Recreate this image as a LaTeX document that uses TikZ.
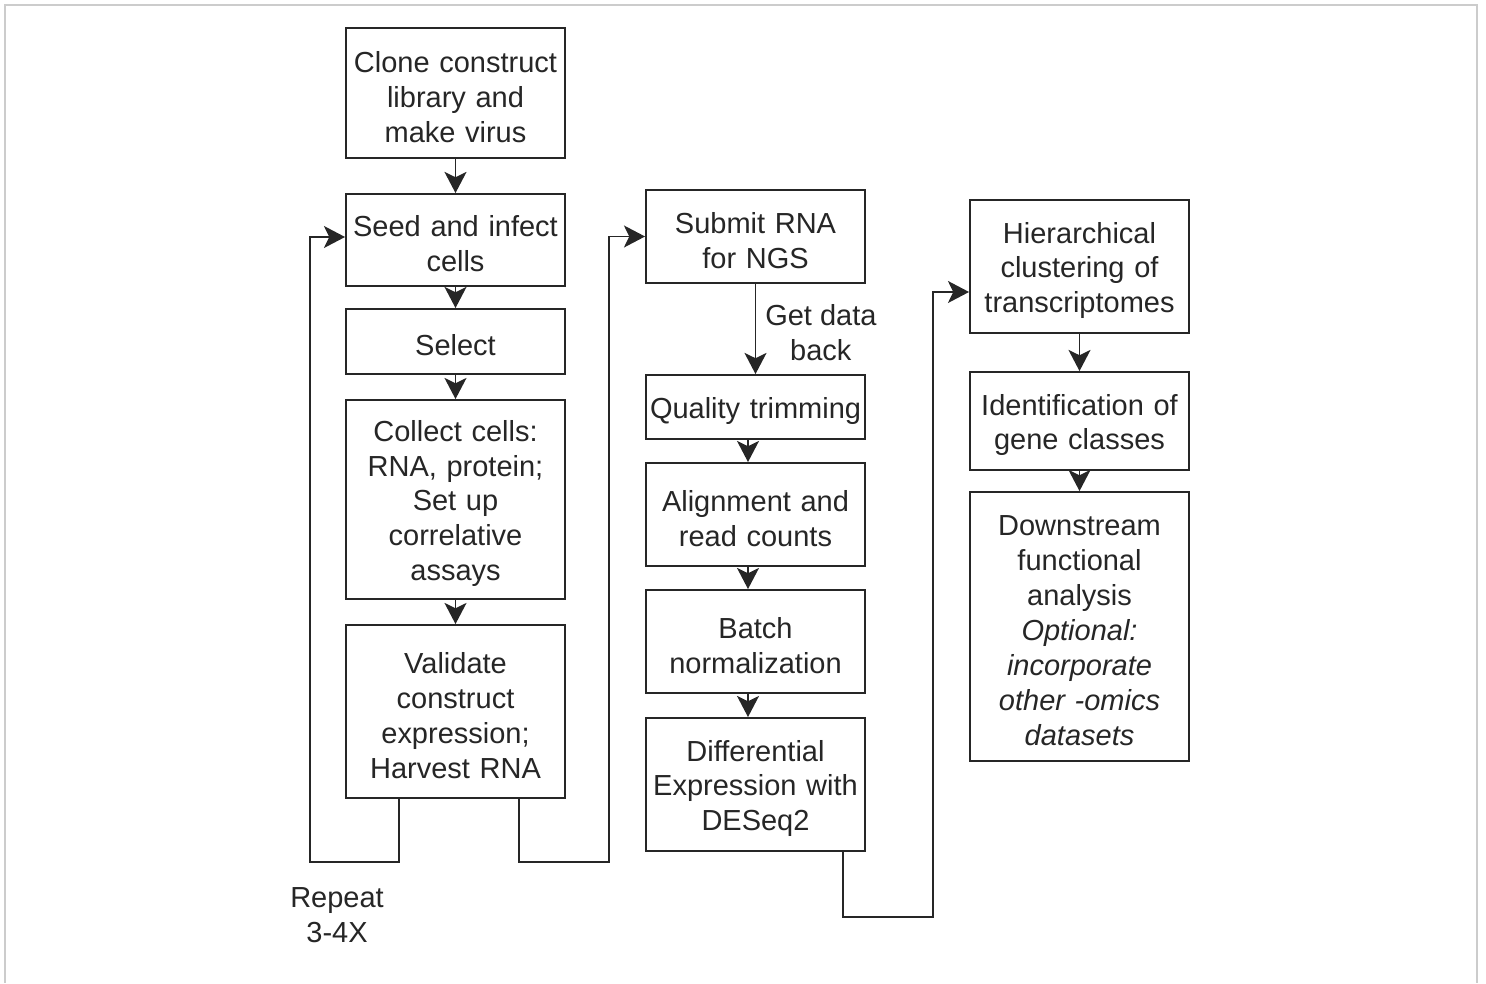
\documentclass[tikz,border=0pt]{standalone}
\usepackage{fontspec}
\setmainfont{Liberation Sans}
\usetikzlibrary{arrows.meta}
\definecolor{ink}{HTML}{262626}
\definecolor{frame}{HTML}{CCCCCC}
\tikzset{
    box/.style={rectangle, draw=ink, line width=1.1pt, fill=white, text=ink,
        minimum width=4.38cm, text width=4.3cm, inner sep=0pt, align=center,
        font=\fontsize{16.5}{19.9}\selectfont,
        execute at begin node={\rule{0pt}{16.5pt}}},
    arr/.style={-{Stealth[length=12pt, width=12.5pt, inset=3pt]}, line width=1.1pt, draw=ink},
    loop/.style={-{Stealth[length=12pt, width=12.5pt, inset=3pt]}, line width=1.1pt, draw=ink},
    lbl/.style={align=center, text=ink, inner sep=0pt, font=\fontsize{16.5}{19.9}\selectfont}
}

\begin{document}
\begin{tikzpicture}[x=0.02cm, y=-0.02cm]
%% canvas: 1486 x 983 px, y runs downwards
\useasboundingbox (0,0) rectangle (1486,983);
\draw[frame, line width=1.2pt] (5,983) -- (5,5) -- (1477,5) -- (1477,983);

%% ── COLUMN 1: WET LAB ───────────────────────────────────────────
\node[box, minimum height=2.6cm]  (clone)    at (455.5, 93)   {Clone construct\\library and\\make virus};
\node[box, minimum height=1.84cm] (seed)     at (455.5, 240)  {Seed and infect\\cells};
\node[box, minimum height=1.3cm]  (select)   at (455.5, 341.5){Select};
\node[box, minimum height=3.98cm] (collect)  at (455.5, 499.5){Collect cells:\\RNA, protein;\\Set up\\correlative\\assays};
\node[box, minimum height=3.46cm] (validate) at (455.5, 711.5){Validate\\construct\\expression;\\Harvest RNA};

%% ── COLUMN 2: SEQUENCING ────────────────────────────────────────
\node[box, minimum height=1.86cm] (submit) at (755.5, 236.5){Submit RNA\\for NGS};
\node[box, minimum height=1.28cm] (trim)   at (755.5, 407)  {Quality trimming};
\node[box, minimum height=2.06cm] (align)  at (755.5, 514.5){Alignment and\\read counts};
\node[box, minimum height=2.06cm] (batch)  at (755.5, 641.5){Batch\\normalization};
\node[box, minimum height=2.66cm] (deseq)  at (755.5, 784.5){Differential\\Expression with\\DESeq2};

%% ── COLUMN 3: ANALYSIS ──────────────────────────────────────────
\node[box, minimum height=2.66cm] (cluster)    at (1079.5, 266.5){Hierarchical\\clustering of\\transcriptomes};
\node[box, minimum height=1.96cm] (classes)    at (1079.5, 421)  {Identification of\\gene classes};
\node[box, minimum height=5.38cm] (downstream) at (1079.5, 626.5){Downstream\\functional\\analysis\\\textit{Optional:}\\\textit{incorporate}\\\textit{other -omics}\\\textit{datasets}};

%% ── STRAIGHT STEPS ──────────────────────────────────────────────
\draw[arr] (clone)   -- (seed);
\draw[arr] (seed)    -- (select);
\draw[arr] (select)  -- (collect);
\draw[arr] (collect) -- (validate);

\draw[arr] (submit) -- node[lbl, right=5pt, yshift=-2pt]{Get data\\back} (trim);
\draw[arr] ([xshift=-0.15cm]trim.south)  -- ([xshift=-0.15cm]align.north);
\draw[arr] ([xshift=-0.15cm]align.south) -- ([xshift=-0.15cm]batch.north);
\draw[arr] ([xshift=-0.15cm]batch.south) -- ([xshift=-0.15cm]deseq.north);

\draw[arr] (cluster) -- (classes);
\draw[arr] (classes) -- (downstream);

%% ── LOOPS AND HAND-OVERS ────────────────────────────────────────
\coordinate (repeatc) at (310, 862);
\coordinate (handA)   at (609, 862);
\coordinate (handB)   at (933, 917);

%% repeat loop: down, far left, back into seed
\draw[loop] ([xshift=-1.13cm]validate.south) |- (repeatc) |- ([yshift=0.06cm]seed.west);
\node[lbl] (repeat) at (337, 915.5) {Repeat\\3-4X};

%% validate -> submit
\draw[loop] ([xshift=1.27cm]validate.south) |- (handA) |- (submit.west);

%% deseq -> cluster, enters below the middle
\draw[loop] ([xshift=1.75cm]deseq.south) |- (handB) |- ([yshift=-0.51cm]cluster.west);

\end{tikzpicture}
\end{document}
